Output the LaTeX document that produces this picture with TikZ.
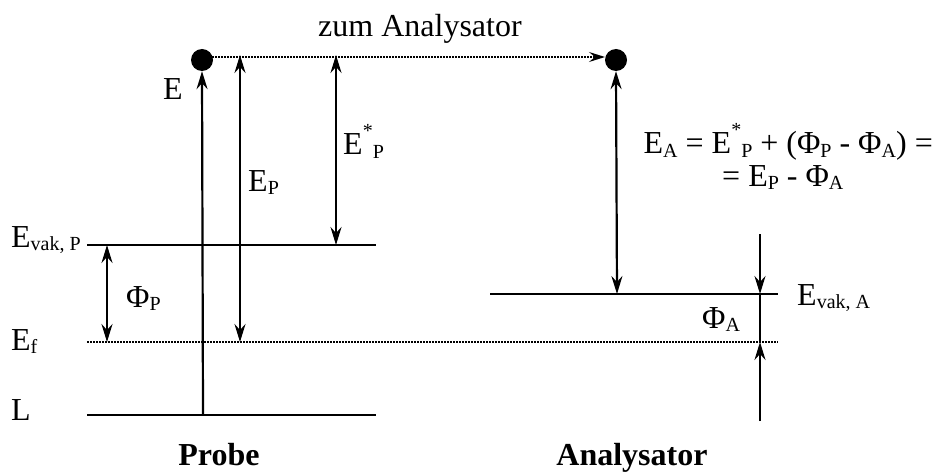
\documentclass[tikz,border=0pt]{standalone}
\usepackage{fontspec}
\setmainfont{Liberation Serif}
\usetikzlibrary{arrows.meta}
\newcommand{\lsb}[1]{\raisebox{-0.12em}{\fontsize{20}{20}\selectfont #1}}
\newcommand{\lsp}[1]{\raisebox{0.55em}{\fontsize{20}{20}\selectfont #1}}
\begin{document}
\begin{tikzpicture}[x=1pt,y=-1pt,
  lvl/.style={line width=2.2pt},
  dotl/.style={line width=1.5pt, dash pattern=on 1.5pt off 1.5pt},
  arr/.style={line width=2.2pt, -{Stealth[length=18pt,width=11pt,inset=6pt]}},
  darr/.style={line width=2.2pt, {Stealth[length=18pt,width=11pt,inset=6pt]}-{Stealth[length=18pt,width=11pt,inset=6pt]}},
  lab/.style={inner sep=0pt, anchor=base west, font=\fontsize{32}{38}\selectfont},
  ball/.style={circle, fill=black, minimum size=22pt, inner sep=0pt}]
\useasboundingbox (0,0) rectangle (936,473);
% dots
\node[ball] (dotP) at (202,60) {};
\node[ball] (dotA) at (616,60) {};
% coordinates
\coordinate (vpL) at (87,245); \coordinate (vpR) at (376,245);
\coordinate (efL) at (87,342); \coordinate (efR) at (778,342);
\coordinate (lL) at (87,415);  \coordinate (lR) at (376,415);
\coordinate (vaL) at (490,294); \coordinate (vaR) at (778,294);
\coordinate (eB) at (203,415);
\coordinate (epT) at (240,55); \coordinate (epB) at (240,342);
\coordinate (esT) at (336,55); \coordinate (esB) at (336,245);
\coordinate (fpT) at (107,245); \coordinate (fpB) at (107,342);
\coordinate (eaB) at (617,294);
\coordinate (faT) at (760,234); \coordinate (faU) at (760,294);
\coordinate (faL) at (760,342); \coordinate (faB) at (760,421);
\coordinate (dlS) at (212,57); \coordinate (dlE) at (605,57);
% levels
\draw[lvl] (vpL) -- (vpR);
\draw[dotl] (efL) -- (efR);
\draw[lvl] (lL) -- (lR);
\draw[lvl] (vaL) -- (vaR);
% arrows
\draw[dotl, -{Stealth[length=16pt,width=10pt,inset=6pt]}] (dlS) -- (dlE);
\draw[arr] (eB) -- (dotP.south);
\draw[darr] (epT) -- (epB);
\draw[darr] (esT) -- (esB);
\draw[darr] (fpT) -- (fpB);
\draw[darr] (dotA.south) -- (eaB);
\draw[arr] (faT) -- (faU);
\draw[lvl] (faU) -- (faL);
\draw[arr] (faB) -- (faL);
% labels
\node[lab] (tz) at (318,37) {zum Analysator};
\node[lab] (tE) at (163,100) {E};
\node[lab] (tEvp) at (11,247) {E\lsb{vak, P}};
\node[lab] (tEf) at (11,350) {E\lsb{f}};
\node[lab] (tL) at (11,420) {L};
\node[lab] (tPhiP) at (126,307) {Φ\lsb{P}};
\node[lab] (tEP) at (248,191) {E\lsb{P}};
\node[lab] (tESP) at (343,155) {E\lsp{*}\lsb{P}};
\node[lab] (tPhiA) at (702,328) {Φ\lsb{A}};
\node[lab] (tEva) at (797,305) {E\lsb{vak, A}};
\node[lab, anchor=base east] (tF1) at (933,154) {E\lsb{A} = E\lsp{*}\lsb{P} + (Φ\lsb{P} - Φ\lsb{A}) =};
\node[lab] (tF2) at (722,186) {= E\lsb{P} - Φ\lsb{A}};
\node[lab, font=\fontsize{32}{38}\selectfont\bfseries, anchor=base] (tProbe) at (219,465) {Probe};
\node[lab, font=\fontsize{32}{38}\selectfont\bfseries, anchor=base] (tAna) at (632,465) {Analysator};
\end{tikzpicture}
\end{document}
